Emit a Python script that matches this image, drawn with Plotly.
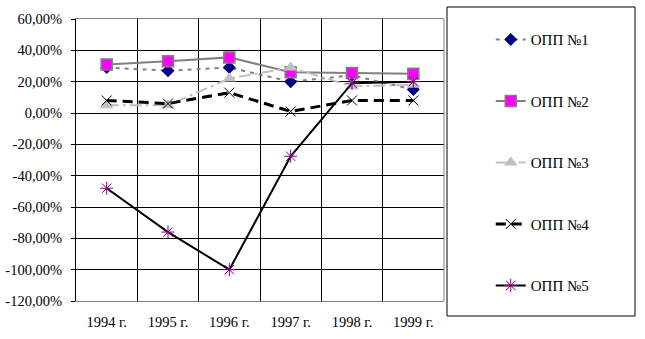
import plotly.graph_objects as go

years = ["1994 г.", "1995 г.", "1996 г.", "1997 г.", "1998 г.", "1999 г."]
opp1 = [0.29, 0.27, 0.29, 0.20, 0.24, 0.15]
opp2 = [0.31, 0.33, 0.355, 0.26, 0.255, 0.25]
opp3 = [0.05, 0.05, 0.22, 0.29, 0.17, 0.18]
opp4 = [0.08, 0.06, 0.13, 0.01, 0.08, 0.08]
opp5 = [-0.48, -0.76, -1.00, -0.276, 0.19, 0.20]
names = ["ОПП №1", "ОПП №2", "ОПП №3", "ОПП №4", "ОПП №5"]
ytick_vals = [0.6, 0.4, 0.2, 0.0, -0.2, -0.4, -0.6, -0.8, -1.0, -1.2]
ytick_text = ["60,00%", "40,00%", "20,00%", "0,00%", "-20,00%", "-40,00%",
              "-60,00%", "-80,00%", "-100,00%", "-120,00%"]

FONT = "'Times New Roman', 'Liberation Serif', 'DejaVu Serif', serif"

styles = [
    dict(line=dict(color="#808080", width=2, dash="4px,5px"),
         marker=dict(symbol="diamond", color="#000080", size=10)),
    dict(line=dict(color="#808080", width=2, dash="solid"),
         marker=dict(symbol="square", color="#FF00FF", size=11,
                     line=dict(color="#808080", width=1.5))),
    dict(line=dict(color="#C0C0C0", width=2, dash="12px,4px,3px,4px"),
         marker=dict(symbol="triangle-up", color="#C0C0C0", size=12)),
    dict(line=dict(color="#000000", width=3, dash="10px,6px"),
         marker=dict(symbol="x-thin", color="#000000", size=10,
                     line=dict(color="#000000", width=1))),
    dict(line=dict(color="#000000", width=2, dash="solid"),
         marker=dict(symbol="asterisk", color="#800080", size=11,
                     line=dict(color="#800080", width=1))),
]

fig = go.Figure()
for i, (nm, vals) in enumerate(zip(names, [opp1, opp2, opp3, opp4, opp5])):
    fig.add_trace(go.Scatter(x=years, y=vals, name=nm, mode="lines+markers",
                             legendgroup=nm, **styles[i]))

fig.update_layout(
    width=645, height=339,
    margin=dict(l=76, r=201, t=19, b=38, autoexpand=False),
    paper_bgcolor="white", plot_bgcolor="white",
    font=dict(family=FONT, size=15, color="black"),
    showlegend=True,
    legend=dict(x=1.127, xanchor="left", y=0.985, yanchor="top",
                tracegroupgap=39, maxheight=330,
                font=dict(family=FONT, size=15),
                bgcolor="rgba(0,0,0,0)", borderwidth=0),
    xaxis=dict(type="category", range=[-0.5, 5.5], tickson="boundaries",
               showgrid=True, gridcolor="black", gridwidth=1,
               showline=True, linecolor="#808080", linewidth=1, mirror=True,
               ticks="", ticklabelstandoff=8, zeroline=False, automargin=False,
               tickfont=dict(size=14.5)),
    yaxis=dict(range=[-1.2, 0.6], tickvals=ytick_vals, ticktext=ytick_text,
               showgrid=True, gridcolor="black", gridwidth=1,
               zeroline=False, showline=True, linecolor="black", linewidth=1,
               ticks="outside", ticklen=4, tickcolor="black",
               ticklabelstandoff=6, automargin=False,
               tickfont=dict(size=14.5)),
    shapes=[
        dict(type="line", xref="paper", yref="paper", x0=1, x1=1, y0=0, y1=1,
             line=dict(color="#808080", width=1)),
        dict(type="rect", xref="paper", yref="paper",
             x0=(447 - 76) / 368, x1=(635 - 76) / 368,
             y0=(301 - 316) / 282, y1=(301 - 7) / 282,
             line=dict(color="black", width=1)),
    ],
)

fig.write_html("out.html")
